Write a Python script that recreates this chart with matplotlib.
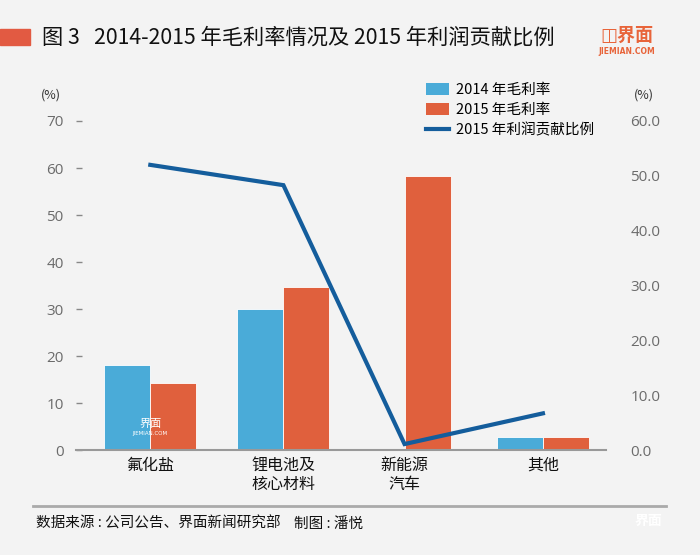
import matplotlib
matplotlib.use("Agg")
import matplotlib.pyplot as plt
from matplotlib.patches import Patch, Rectangle
from matplotlib.lines import Line2D

plt.rcParams['font.family'] = ['Noto Sans CJK SC', 'DejaVu Sans']

# data
categories = ["氟化盐", "锂电池及\n核心材料", "新能源\n汽车", "其他"]
margin_2014 = [18.1, 30.0, 0.0, 2.8]
margin_2015 = [14.3, 34.7, 58.3, 2.8]
profit_share_2015 = [52.0, 48.3, 1.1, 6.7]
left_ticks = [0, 10, 20, 30, 40, 50, 60, 70]
right_ticks = [0, 10, 20, 30, 40, 50, 60]

# category centres (the original spacing is a bit uneven)
xpos = [0, 1, 1.91, 2.95]
bw = 0.346

bg = "#f3f3f3"
blue = "#4aabd8"
red = "#e0603d"
line_c = "#145d9c"
grey = "#6b6b6b"

fig = plt.figure(figsize=(7, 5.55), dpi=100, facecolor=bg)
ax = fig.add_axes([0.109, 0.189, 0.756, 0.593], facecolor=bg)

ax.bar([x - bw / 2 for x in xpos], margin_2014, width=bw, color=blue,
       edgecolor="white", linewidth=0.6, zorder=2)
ax.bar([x + bw / 2 for x in xpos], margin_2015, width=bw, color=red,
       edgecolor="white", linewidth=0.6, zorder=2)

ax.set_xlim(-0.556, 3.42)
ax.set_ylim(0, 70)
ax.set_yticks(left_ticks)
ax.set_yticklabels([str(t) for t in left_ticks], family=['Open Sans', 'DejaVu Sans'],
                   fontsize=11, color=grey)
ax.tick_params(axis='y', direction='in', length=4, width=1, color="#888888", pad=9)
ax.set_xticks(xpos)
ax.set_xticklabels(categories, fontsize=11.5, color="#111111", linespacing=1.15)
ax.tick_params(axis='x', length=0, pad=5)
for s in ["top", "right", "left"]:
    ax.spines[s].set_visible(False)
ax.spines["bottom"].set_color("#999999")
ax.spines["bottom"].set_linewidth(1.5)

ax2 = ax.twinx()
ax2.plot(xpos, profit_share_2015, color=line_c, linewidth=3, zorder=5,
         solid_joinstyle='miter')
ax2.set_ylim(0, 60)
ax2.set_yticks(right_ticks)
ax2.set_yticklabels([f"{t:.1f}" for t in right_ticks], family=['Open Sans', 'DejaVu Sans'],
                    fontsize=11, color=grey)
ax2.tick_params(axis='y', length=0, pad=18)
for s in ax2.spines.values():
    s.set_visible(False)

# legend
handles = [Patch(facecolor=blue, edgecolor="none"),
           Patch(facecolor=red, edgecolor="none"),
           Line2D([0], [0], color=line_c, linewidth=3)]
labels = ["2014 年毛利率", "2015 年毛利率", "2015 年利润贡献比例"]
fig.legend(handles, labels, loc="upper left", bbox_to_anchor=(0.6, 0.861),
           frameon=False, fontsize=10.5, handlelength=1.6, handleheight=0.9,
           handletextpad=0.45, labelspacing=0.4, borderaxespad=0)

# unit labels
fig.text(0.073, 0.828, "(%)", fontsize=9, ha="center", va="center", color="#333333")
fig.text(0.920, 0.828, "(%)", fontsize=9, ha="center", va="center", color="#333333")

# title bar
fig.patches.append(Rectangle((0, 1 - 45 / 555), 30 / 700, 16 / 555,
                             transform=fig.transFigure, color="#e25a42"))
fig.text(0.06, 1 - 38 / 555, "图 3   2014-2015 年毛利率情况及 2015 年利润贡献比例",
         fontsize=15.3, va="center", ha="left", color="#111111")

# logo
fig.text(0.896, 1 - 35 / 555, "◫界面", fontsize=13, color="#e8643a",
         ha="center", va="center", fontweight="bold")
fig.text(0.896, 1 - 52 / 555, "JIEMIAN.COM", fontsize=5.5, color="#e8643a",
         ha="center", va="center", family=['DejaVu Sans'], fontweight="bold")

# watermark on first bars
ax.text(0, 5.6, "界面", fontsize=8, color="white", ha="center", va="center", zorder=6)
ax.text(0, 3.6, "JIEMIAN.COM", fontsize=4, color="white", ha="center", va="center",
        family=['DejaVu Sans'], zorder=6)

# footer
fig.add_artist(Line2D([33 / 700, 666 / 700], [1 - 506 / 555, 1 - 506 / 555],
                      color="#aaaaaa", linewidth=2, transform=fig.transFigure))
fig.text(36 / 700, 1 - 524 / 555, "数据来源 : 公司公告、界面新闻研究部",
         fontsize=10.5, va="center", ha="left", color="#111111")
fig.text(294 / 700, 1 - 524 / 555, "制图 : 潘悦",
         fontsize=10.5, va="center", ha="left", color="#111111")
fig.text(648 / 700, 1 - 521 / 555, "界面", fontsize=10, color="white",
         ha="center", va="center", fontweight="bold")

fig.savefig("out.png", dpi=100, facecolor=bg)
